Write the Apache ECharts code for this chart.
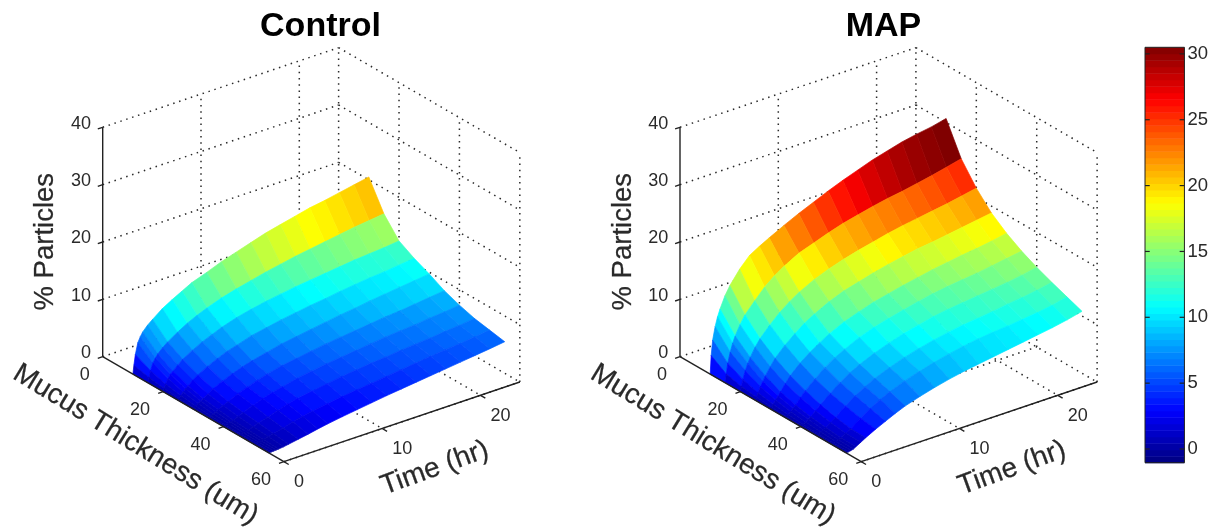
<!DOCTYPE html>
<html><head><meta charset="utf-8">
<style>html,body{margin:0;padding:0;background:#fff}#c{width:1211px;height:528px}</style>
<script src="https://cdn.jsdelivr.net/npm/echarts@6/dist/echarts.min.js"></script>
</head><body><div id="c"></div>
<script>
// ---- data ----
const timeHr = [0,.1,.25,.5,.75,1,1.5,2,3,4,5,6,7.5,9,10.5,12,13.5,15,16.5,18,19.5,21,22.5,24];
const thicknessUm = [10,15,20,25,30,35,40,45,50,55];
const controlZ = [
 [0,1.5,3.3,5.2,6.1,6.8,7.7,8.4,9.7,10.7,11.6,12.5,13.4,14.4,15.2,16,16.8,17.4,18,18.6,19,19.5,20,20.5],
 [0,.9,2,3.2,3.9,4.5,5.3,6,7.1,8.1,8.9,9.6,10.5,11.2,11.8,12.4,12.9,13.4,13.8,14.2,14.6,15,15.3,15.6],
 [0,.5,1.2,2,2.6,3,3.8,4.5,5.5,6.4,7.1,7.8,8.6,9.2,9.7,10.1,10.5,10.8,11.1,11.4,11.7,11.9,12.1,12.4],
 [0,.3,.7,1.2,1.6,2,2.7,3.3,4.2,5,5.7,6.2,7,7.5,8,8.4,8.8,9.1,9.5,9.8,10.1,10.3,10.6,10.9],
 [0,.15,.35,.7,1,1.3,1.8,2.4,3.2,3.9,4.5,5,5.6,6.2,6.6,7,7.4,7.8,8.1,8.5,8.8,9.1,9.4,9.7],
 [0,.08,.2,.4,.65,.9,1.3,1.7,2.5,3.1,3.7,4.2,4.8,5.2,5.6,6,6.3,6.6,6.9,7.2,7.4,7.7,8,8.3],
 [0,.05,.12,.25,.4,.55,.9,1.3,2,2.6,3.1,3.5,4.1,4.5,4.9,5.2,5.5,5.8,6.1,6.3,6.5,6.8,7,7.3],
 [0,.03,.08,.17,.27,.38,.65,1,1.5,2.1,2.6,3,3.4,3.8,4.2,4.5,4.8,5,5.3,5.5,5.7,6,6.2,6.5],
 [0,.02,.05,.1,.16,.24,.42,.7,1.1,1.6,2,2.3,2.7,3.1,3.4,3.7,4,4.3,4.6,4.9,5.2,5.4,5.7,6],
 [0,.01,.02,.04,.07,.1,.2,.35,.65,.95,1.3,1.6,2,2.35,2.7,3.05,3.35,3.65,3.95,4.25,4.55,4.85,5.15,5.5]
];
const mapZ = [
 [0,3.2,5.8,8,9.6,10.8,12.8,14.3,16.6,18.4,19.4,20.3,21.6,22.8,23.9,25,26,26.9,27.8,28.5,29.2,29.7,30.1,30.7],
 [0,1.5,3.3,5.1,6.5,7.6,9.3,10.7,12.6,14.4,15.8,16.9,18.3,19.2,20.1,20.9,21.5,22.1,22.6,23,23.5,24,24.6,25.2],
 [0,.85,2,3.4,4.5,5.4,6.9,8.1,9.9,11.5,12.8,13.9,15.2,16.2,17,17.7,18.3,18.9,19.4,19.8,20.2,20.6,21.1,21.6],
 [0,.5,1.2,2.1,2.9,3.7,5,6.2,7.9,9.3,10.6,11.6,12.9,13.9,14.6,15.3,15.9,16.4,16.9,17.2,17.6,18,18.4,18.8],
 [0,.27,.7,1.3,1.85,2.45,3.6,4.7,6.3,7.6,8.7,9.7,10.9,11.8,12.6,13.2,13.8,14.3,14.8,15.2,15.6,15.9,16.3,16.8],
 [0,.17,.4,.85,1.25,1.7,2.7,3.6,5.1,6.5,7.6,8.5,9.7,10.6,11.3,11.9,12.5,13,13.4,13.7,14,14.4,14.8,15.2],
 [0,.1,.25,.55,.85,1.15,1.9,2.7,4.1,5.4,6.5,7.4,8.5,9.4,10.2,10.8,11.4,11.8,12.1,12.4,12.7,13,13.4,13.9],
 [0,.05,.12,.3,.55,.8,1.4,2,3.4,4.6,5.6,6.5,7.5,8.4,9.1,9.7,10.2,10.6,10.9,11.2,11.6,11.9,12.3,12.8],
 [0,.03,.07,.2,.35,.55,1.05,1.55,2.8,3.9,4.9,5.7,6.7,7.5,8.2,8.8,9.3,9.7,10,10.2,10.5,10.8,11.2,11.8],
 [0,.02,.05,.12,.25,.5,1,1.5,2.4,3.2,4,4.7,5.5,6.2,6.8,7.3,7.7,8.1,8.5,8.9,9.3,9.7,10.2,10.8]
];
const zTicks = [0,10,20,30,40];
const thickTicks = [0,20,40,60];
const timeTicks = [0,10,20];
const colorTicks = [0,5,10,15,20,25,30];
const T_MAX = 24, TH_MAX = 60, Z_MAX = 40;
const C_MIN = -1.04, C_MAX = 30.5, C_LEVELS = 64;

// ---- oblique projection: (time, thickness, percent) -> axis units ----
const VIEW = {tx:9.83, ty:3.32, hx:3.02, hy:1.75, z:5.735};
function proj(t, th, z){ return [VIEW.tx*t + VIEW.hx*th, VIEW.z*z + VIEW.ty*t - VIEW.hy*th]; }

function jet(v){
  const x = Math.max(0, Math.min(0.9999, (v - C_MIN)/(C_MAX - C_MIN)));
  const f = s => Math.round(255*Math.max(0, Math.min(1, 1.5 - Math.abs(4*x - s))));
  return 'rgb('+f(3)+','+f(2)+','+f(1)+')';
}

const FONT = '"Liberation Sans", Arial, sans-serif';
const INK = '#2a2a2a';

function frameLines(){
  const dots = [], solid = [];
  const d = (a,b)=>dots.push([a,b]), s=(a,b)=>solid.push([a,b]);
  zTicks.forEach(z=>{
    d([0,0,z],[T_MAX,0,z]);
    d([T_MAX,0,z],[T_MAX,TH_MAX,z]);
    s([0,0,z],[-0.5,0,z]);
  });
  timeTicks.filter(t=>t>0).forEach(t=>{
    d([t,0,0],[t,0,Z_MAX]);
    d([t,0,0],[t,TH_MAX,0]);
    s([t,TH_MAX,0],[t,TH_MAX+1.6,0]);
  });
  thickTicks.filter(h=>h>0).forEach(h=>{
    d([T_MAX,h,0],[T_MAX,h,Z_MAX]);
    d([0,h,0],[T_MAX,h,0]);
    s([0,h,0],[-0.5,h,0]);
  });
  d([T_MAX,0,0],[T_MAX,0,Z_MAX]);
  s([0,0,0],[0,0,Z_MAX]);
  s([0,0,0],[0,TH_MAX,0]);
  s([0,TH_MAX,0],[T_MAX,TH_MAX,0]);
  s([0,TH_MAX,0],[0,TH_MAX+1.6,0]);
  return {dots, solid};
}

function lineSeries(axis, list, style){
  return {type:'custom', coordinateSystem:'cartesian2d', xAxisIndex:axis, yAxisIndex:axis, silent:true,
    data:list.map((_,i)=>[i]), clip:false,
    renderItem:(p,api)=>{
      const seg=list[p.dataIndex];
      const a=api.coord(proj(...seg[0])), b=api.coord(proj(...seg[1]));
      return {type:'line', shape:{x1:a[0],y1:a[1],x2:b[0],y2:b[1]}, style};
    }};
}

function surfaceSeries(axis, Z){
  const cells=[];
  for(let i=0;i<thicknessUm.length-1;i++)
    for(let j=timeHr.length-2;j>=0;j--) cells.push([i,j]);
  return {type:'custom', coordinateSystem:'cartesian2d', xAxisIndex:axis, yAxisIndex:axis, silent:true,
    data:cells, clip:false,
    renderItem:(p,api)=>{
      const [i,j]=cells[p.dataIndex];
      const P=(a,b)=>api.coord(proj(timeHr[b],thicknessUm[a],Z[a][b]));
      const col=jet(Z[i][j+1]);
      return {type:'polygon', shape:{points:[P(i,j),P(i,j+1),P(i+1,j+1),P(i+1,j)]},
        style:{fill:col, stroke:col, lineWidth:0.7}};
    }};
}

function textSeries(axis, items){
  return {type:'custom', coordinateSystem:'cartesian2d', xAxisIndex:axis, yAxisIndex:axis, silent:true,
    data:items.map((_,i)=>[i]), clip:false,
    renderItem:(p,api)=>{
      const it=items[p.dataIndex];
      const c=api.coord(proj(...it.at));
      return {type:'text', x:c[0]+it.dx, y:c[1]+it.dy, rotation:(it.rot||0)*Math.PI/180,
        style:{text:it.text, fontFamily:FONT, fontSize:it.size, fill:INK,
               stroke:it.heavy?INK:null, lineWidth:it.heavy?0.25:0,
               align:it.align, verticalAlign:'middle', textAlign:it.align, textVerticalAlign:'middle'}};
    }};
}

function labels(){
  const L=[];
  zTicks.forEach(z=>L.push({at:[0,0,z],dx:-11.7,dy:-3.7,text:String(z),size:18,align:'right'}));
  thickTicks.forEach(h=>L.push({at:[0,h,0],dx:-13,dy:18.5,text:String(h),size:18,align:'right'}));
  timeTicks.forEach(t=>L.push({at:[t,TH_MAX,0],dx:10,dy:20.5,text:String(t),size:18,align:'left'}));
  L.push({at:[0,0,0],dx:-57,dy:-115,rot:90,text:'% Particles',size:27.5,align:'center',heavy:true});
  L.push({at:[0,0,0],dx:33,dy:88,rot:-31.5,text:'Mucus Thickness (um)',size:28,align:'center',heavy:true});
  L.push({at:[0,0,0],dx:332,dy:111.6,rot:20,text:'Time (hr)',size:28,align:'center',heavy:true});
  return L;
}

const fr = frameLines();
const dotStyle = {stroke:'#2a2a2a', lineWidth:1.5, lineDash:[1.5,4.7], fill:null};
const solidStyle = {stroke:'#222', lineWidth:1.4, fill:null};
const panel = (axis, Z) => [
  lineSeries(axis, fr.dots, dotStyle),
  surfaceSeries(axis, Z),
  lineSeries(axis, fr.solid, solidStyle),
  textSeries(axis, labels())
];
const hiddenX = g => ({type:'value', gridIndex:g, show:false, min:-40, max:440});
const hiddenY = g => ({type:'value', gridIndex:g, show:false, min:-163.3, max:316.7});

const step = (C_MAX - C_MIN)/C_LEVELS;
const bands = Array.from({length:C_LEVELS},(_,i)=>C_MIN + i*step);

const tickMarks = [];
colorTicks.forEach(v=>{ tickMarks.push([0,v,0.12,v]); tickMarks.push([0.88,v,1,v]); });

const chart = echarts.init(document.getElementById('c'), null, {renderer:'canvas'});
chart.setOption({
  animation:false,
  backgroundColor:'#fff',
  title:[
    {text:'Control', left:315.5, top:5, textAlign:'center', textStyle:{fontFamily:FONT, fontSize:34, fontWeight:'bold', color:'#000'}},
    {text:'MAP', left:878.5, top:5, textAlign:'center', textStyle:{fontFamily:FONT, fontSize:34, fontWeight:'bold', color:'#000'}}
  ],
  grid:[
    {left:62.7, top:40, width:480, height:480},
    {left:640, top:40, width:480, height:480},
    {left:1145, top:47.3, width:41.5, height:415.4, show:true, borderColor:'#222', borderWidth:1, backgroundColor:'transparent', z:5}
  ],
  xAxis:[hiddenX(0), hiddenX(1), {type:'value', gridIndex:2, min:0, max:1, show:false}],
  yAxis:[hiddenY(0), hiddenY(1),
    {type:'value', gridIndex:2, position:'right', min:C_MIN, max:C_MAX, z:6,
     axisLine:{show:false}, splitLine:{show:false}, axisTick:{show:false},
     axisLabel:{show:true, margin:3, customValues:colorTicks, fontFamily:FONT, fontSize:18.5, color:INK}}
  ],
  series:[
    ...panel(0, controlZ),
    ...panel(1, mapZ),
    {type:'custom', coordinateSystem:'cartesian2d', xAxisIndex:2, yAxisIndex:2, silent:true,
     data:bands.map(v=>[v]),
     renderItem:(p,api)=>{
       const v=bands[p.dataIndex];
       const a=api.coord([0,v+step]), b=api.coord([1,v]);
       return {type:'rect', shape:{x:a[0],y:a[1],width:b[0]-a[0],height:b[1]-a[1]+0.5},
         style:{fill:jet(v+step/2)}};
     }},
    {type:'custom', coordinateSystem:'cartesian2d', xAxisIndex:2, yAxisIndex:2, silent:true,
     data:tickMarks, z:7,
     renderItem:(p,api)=>{
       const m=tickMarks[p.dataIndex];
       const a=api.coord([m[0],m[1]]), b=api.coord([m[2],m[3]]);
       return {type:'line', shape:{x1:a[0],y1:a[1],x2:b[0],y2:b[1]}, style:{stroke:'#222',lineWidth:1.2,fill:null}};
     }}
  ]
});
</script></body></html>
